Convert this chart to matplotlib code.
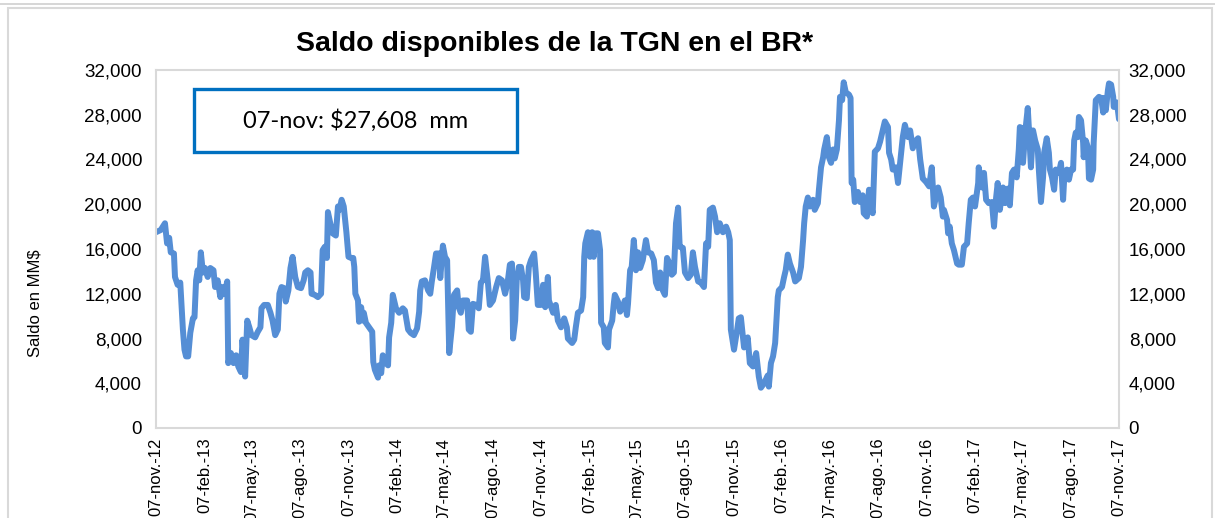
import matplotlib
matplotlib.use("Agg")
import matplotlib.pyplot as plt
from matplotlib import font_manager
from matplotlib.patches import Rectangle
from matplotlib.lines import Line2D
import pandas as pd
import numpy as np

# ---------------- data ----------------
fecha_inicio = "2012-11-07"
# days since 07-nov-2012
dias = [0, 9, 17, 21, 25, 28, 34, 36, 41, 46, 51, 54, 57, 61, 65, 70, 73, 76, 79, 82,
        85, 89, 93, 98, 103, 109, 112, 117, 122, 126, 130, 135, 137, 142, 147, 152, 156, 161, 164, 169,
        173, 177, 181, 188, 193, 198, 200, 205, 212, 217, 221, 226, 231, 234, 238, 243, 246, 251, 255, 259,
        264, 269, 275, 280, 283, 288, 293, 295, 301, 307, 313, 316, 320, 324, 326, 330, 335, 341, 345, 348,
        352, 356, 361, 365,
        370, 374, 376, 378, 383, 385, 389, 392, 394, 398, 404, 410, 412, 415, 421, 423, 427, 430, 434, 440,
        442, 446, 449, 455, 461, 468, 472, 478, 483, 489, 495, 499, 501, 504, 510, 516, 520, 523, 527, 531,
        537, 539, 544, 548, 552, 556, 561, 565, 571, 574, 578, 582, 590, 593, 597, 601, 607, 612, 616, 620,
        624, 629, 633, 639, 645, 650, 656, 662, 667, 671, 675, 677, 681, 684, 688, 692, 696, 698, 703, 707,
        711, 717, 720, 724, 730, 734, 738, 743,
        745, 753, 758, 762, 768, 774, 779, 781, 789, 793, 796, 800, 806, 810, 812, 814, 819, 823, 827, 830,
        834, 838, 842, 844, 849, 851, 857, 859, 865, 868, 870, 876, 880, 885, 889, 893, 895, 899, 902, 906,
        910, 914, 918, 923, 929, 933, 939, 944, 948, 952, 956, 961, 965, 969, 973, 978, 982, 986, 990, 993,
        999, 1003, 1009, 1014, 1018, 1022, 1028, 1033, 1039, 1043, 1047, 1050, 1056, 1060, 1064, 1069, 1075, 1081, 1085, 1088,
        1090, 1096, 1102, 1105,
        1109, 1115, 1122, 1126, 1132, 1138, 1143, 1147, 1153, 1160, 1162, 1166, 1170, 1174, 1179, 1181, 1187, 1191, 1194, 1198,
        1202, 1208, 1212, 1219, 1223, 1227, 1229, 1232, 1236, 1240, 1246, 1249, 1255, 1257, 1261, 1265, 1267, 1272, 1276, 1280,
        1284, 1287, 1291, 1295, 1297, 1301, 1304, 1308, 1314, 1317, 1319, 1322, 1325, 1331, 1335, 1340, 1342, 1348, 1352, 1356,
        1359, 1363, 1369, 1373, 1378, 1382, 1388, 1390, 1394, 1397, 1403, 1407, 1413, 1416, 1420, 1426, 1430, 1435, 1439, 1445,
        1449, 1454, 1460, 1466, 1471, 1475, 1483, 1488, 1492, 1494, 1500, 1502, 1505, 1509, 1513, 1519, 1522, 1528, 1532, 1538,
        1541, 1545, 1549, 1553, 1559, 1560, 1566, 1570, 1574, 1579, 1585, 1589, 1593, 1596, 1600, 1606, 1610, 1615, 1619, 1623,
        1627, 1632, 1636, 1638, 1642, 1644, 1648, 1653, 1655, 1659, 1663, 1667, 1672, 1674, 1678, 1682, 1684, 1689, 1693, 1695,
        1699, 1703, 1706, 1712, 1716, 1720, 1722, 1727, 1731, 1735, 1739, 1741, 1744, 1748, 1750, 1754, 1758, 1759, 1763, 1767,
        1769, 1773, 1777, 1778, 1782, 1788, 1792, 1796, 1797, 1801, 1805, 1807, 1811, 1815, 1816, 1822, 1826]

saldo = [17500, 17700, 18300, 16500, 17000, 15700, 15600, 13500, 12800, 13000, 8800, 7000, 6400, 6400, 8500, 9800, 9900, 13200, 14100, 13200,
         15700, 13900, 14300, 13500, 14300, 14100, 12600, 13200, 11700, 12600, 12000, 13100, 5800, 6700, 5800, 6500, 5500, 5000, 7900, 4600,
         9600, 9000, 8300, 8100, 8600, 9000, 10700, 11000, 11000, 10300, 9600, 8300, 8800, 12000, 12600, 12500, 11300, 12300, 14300, 15300,
         13500, 12600, 12500, 13200, 13900, 14100, 13900, 12000, 11900, 11700, 12000, 15900, 16200, 15200, 19300, 18400, 17400, 17200, 19800, 19500,
         20400, 19800, 17500, 15300,
         15200, 15200, 14400, 12000, 11400, 9500, 10800, 9600, 10300, 9400, 9000, 8600, 5900, 5200, 4500, 5600, 4900, 6500, 5900, 5600,
         8100, 9400, 11900, 10700, 10300, 10700, 10500, 8800, 8500, 8300, 8900, 10400, 12300, 13100, 13200, 12300, 12000, 13100, 14300, 15600,
         15600, 13400, 16300, 15300, 15000, 6700, 9000, 11900, 12300, 10800, 10300, 11400, 11400, 8800, 8600, 11100, 11000, 10700, 13000, 13200,
         15300, 13200, 11000, 11400, 12600, 13400, 13200, 12000, 13100, 14600, 14700, 8000, 9600, 13200, 14400, 14400, 13200, 11700, 11600, 14400,
         15000, 15600, 13900, 11000, 11000, 12800, 10800, 13500,
         11400, 10300, 11000, 9600, 9000, 9800, 9000, 8000, 7600, 7900, 9000, 10300, 10500, 11700, 15300, 16500, 17500, 15300, 17500, 15300,
         17400, 17400, 15900, 9400, 9000, 7600, 7200, 8800, 9600, 11100, 11900, 11300, 10400, 10800, 11400, 10100, 11100, 14100, 14400, 16800,
         14100, 15700, 14300, 15000, 16800, 15700, 15600, 15000, 13000, 12500, 13900, 12300, 11900, 15200, 14800, 13700, 13900, 18300, 19700, 16200,
         16100, 13900, 13400, 13700, 15700, 14400, 13100, 13000, 12600, 16500, 16200, 19500, 19700, 18900, 17500, 18300, 17500, 18000, 17500, 16800,
         8800, 7000, 8800, 9800,
         9900, 7200, 8100, 5800, 5500, 6700, 4600, 3600, 4000, 4700, 3700, 5800, 6400, 7600, 11700, 12300, 12600, 13500, 14100, 15500,
         14700, 13900, 13100, 13400, 14400, 16800, 18300, 19800, 20600, 19800, 20400, 19500, 20100, 21300, 23300, 24200, 24900, 26000, 24200, 23700,
         24900, 24100, 24900, 27500, 29600, 29300, 30900, 30000, 29800, 29500, 21900, 22200, 20200, 21100, 20200, 20800, 19200, 18900, 21300, 19800,
         19200, 24700, 25000, 25600, 26600, 27400, 26900, 24600, 24000, 23100, 23300, 21900, 24600, 26000, 27100, 26000, 26600, 25000, 25600, 25900,
         24000, 22300, 22000, 21600, 23300, 19800, 21500, 20600, 18900, 19500, 18600, 17400, 18000, 16500, 15900, 14700, 14600, 14600, 16200, 16500,
         18300, 20400, 20600, 19800, 21900, 23300, 21500, 22800, 20400, 20100, 20200, 18000, 20600, 21900, 19500, 21500, 20100, 21400, 19900, 22800,
         23100, 22400, 24900, 26900, 26800, 23700, 26400, 28600, 26900, 23300, 26600, 25700, 24900, 23100, 20200, 22400, 24600, 25900, 24600, 23100,
         22400, 21300, 23100, 22800, 23700, 20400, 22200, 23100, 22200, 23100, 23100, 25700, 26400, 26000, 27800, 27500, 25500, 24200, 25700, 25100,
         22300, 22200, 23100, 25500, 29300, 29600, 29500, 28200, 29500, 28400, 30200, 30800, 30700, 29600, 28700, 29100, 27608]

titulo = "Saldo disponibles de la TGN en el BR*"
etiqueta_y = "Saldo en MM$"
nota = "07-nov: $27,608  mm"
meses_es = {2: "feb.", 5: "may.", 8: "ago.", 11: "nov."}
y_ticks = [0, 4000, 8000, 12000, 16000, 20000, 24000, 28000, 32000]

# ---------------- fonts ----------------
available = {f.name for f in font_manager.fontManager.ttflist}
narrow = "Liberation Sans Narrow" if "Liberation Sans Narrow" in available else "Liberation Sans"
plt.rcParams["font.family"] = ["Liberation Sans", "DejaVu Sans"]

# ---------------- figure ----------------
W, H = 1215, 518
fig = plt.figure(figsize=(W / 100, H / 100), dpi=100)
fig.patch.set_facecolor("white")

# outer chart border
fig.add_artist(Rectangle((8 / W, -0.01), (1212 - 8) / W, 1 - 8 / H + 0.01,
                         transform=fig.transFigure, fill=False,
                         edgecolor="#D9D9D9", linewidth=1.5))
fig.add_artist(Line2D([0, 1], [1 - 4 / H, 1 - 4 / H], transform=fig.transFigure,
                      color="#D0D0D0", linewidth=1.2))

left, right, bottom, top = 156 / W, 1119 / W, 1 - 428 / H, 1 - 70 / H
ax = fig.add_axes([left, bottom, right - left, top - bottom])

start = pd.Timestamp(fecha_inicio)
fechas = start + pd.to_timedelta(dias, unit="D")
ax.plot(fechas, saldo, color="#558ED5", linewidth=4.3, solid_joinstyle="round",
        solid_capstyle="round")

end = pd.Timestamp("2017-11-07")
ax.set_xlim(start, end)
ax.set_ylim(0, 32000)

tick_dates = pd.date_range("2012-11-01", "2017-11-01", freq="3MS") + pd.Timedelta(days=6)
ax.set_xticks(tick_dates)
ax.set_xticklabels([f"07-{meses_es[d.month]}-{d.year % 100:02d}" for d in tick_dates],
                   rotation=90, fontsize=12, family=[narrow, "DejaVu Sans"])
ax.tick_params(axis="x", length=0, pad=7)

ax.set_yticks(y_ticks)
ax.set_yticklabels([f"{v:,}" for v in y_ticks], fontsize=13.5)
ax.tick_params(axis="y", length=0, pad=10)

for s in ax.spines.values():
    s.set_color("#D9D9D9")
    s.set_linewidth(1.5)

ax2 = ax.twinx()
ax2.set_ylim(0, 32000)
ax2.set_yticks(y_ticks)
ax2.set_yticklabels([f"{v:,}" for v in y_ticks], fontsize=13.5)
ax2.tick_params(axis="y", length=0, pad=7)
for s in ax2.spines.values():
    s.set_visible(False)

fig.text(35 / W, 1 - 303 / H, etiqueta_y, rotation=90, ha="center", va="center",
         fontsize=12, family=[narrow, "DejaVu Sans"])

fig.text(555 / W, 1 - 44 / H, titulo, ha="center", va="center",
         fontsize=20.5, fontweight="bold")

# note box
fig.add_artist(Rectangle((194 / W, 1 - 152 / H), (517 - 194) / W, (152 - 89) / H,
                         transform=fig.transFigure, fill=True, facecolor="white",
                         edgecolor="#0070C0", linewidth=2.4, zorder=5))
fig.text(356 / W, 1 - 121 / H, nota, ha="center", va="center", fontsize=17,
         family=["Lato", "DejaVu Sans"], zorder=6)

fig.savefig("out.png", dpi=100)
